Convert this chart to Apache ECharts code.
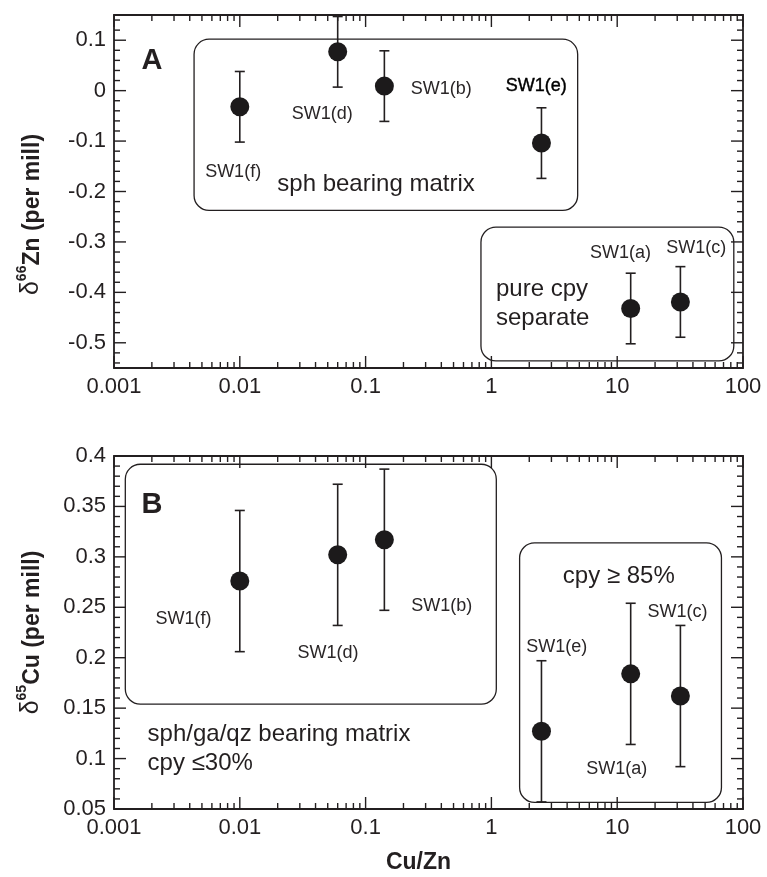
<!DOCTYPE html>
<html><head><meta charset="utf-8">
<script src="https://cdn.jsdelivr.net/npm/echarts@6/dist/echarts.min.js"></script>
<style>html,body{margin:0;padding:0;background:#fff}#c{width:767px;height:877px}</style>
</head><body><div id="c"></div>
<script>
// ---------- data ----------
const samples = ['SW1(a)', 'SW1(b)', 'SW1(c)', 'SW1(d)', 'SW1(e)', 'SW1(f)'];
const cuZnRatio = [12.8, 0.141, 31.8, 0.060, 2.5, 0.010];
const d66Zn = [-0.432, 0.009, -0.419, 0.077, -0.104, -0.032];
const d66ZnErr = [0.07, 0.07, 0.07, 0.07, 0.07, 0.07];
const d65Cu = [0.184, 0.317, 0.162, 0.302, 0.127, 0.276];
const d65CuErr = [0.07, 0.07, 0.07, 0.07, 0.07, 0.07];

const xTickValues = [0.001, 0.01, 0.1, 1, 10, 100];
const xTickLabels = ['0.001', '0.01', '0.1', '1', '10', '100'];
const yTickValuesA = [-0.5, -0.4, -0.3, -0.2, -0.1, 0, 0.1];
const yTickLabelsA = ['-0.5', '-0.4', '-0.3', '-0.2', '-0.1', '0', '0.1'];
const yTickValuesB = [0.05, 0.1, 0.15, 0.2, 0.25, 0.3, 0.35, 0.4];
const yTickLabelsB = ['0.05', '0.1', '0.15', '0.2', '0.25', '0.3', '0.35', '0.4'];

// ---------- annotations (data coordinates) ----------
const boxesA = [[0.00433, 0.102, 4.85, -0.2376], [0.826, -0.2707, 84.5, -0.536]];
const boxesB = [[0.00123, 0.3918, 1.094, 0.154], [1.676, 0.3139, 67.4, 0.0565]];
const notesA = [
  {t: 'A', p: [0.002, 0.058], k: 'panel'},
  {t: 'SW1(d)', p: [0.0452, -0.047], k: 'sample'},
  {t: 'SW1(f)', p: [0.00885, -0.162], k: 'sample'},
  {t: 'SW1(b)', p: [0.399, 0.003], k: 'sample'},
  {t: 'SW1(e)', p: [2.27, 0.0085], k: 'sampleDark'},
  {t: 'sph bearing matrix', p: [0.121, -0.186], k: 'group'},
  {t: 'SW1(a)', p: [10.6, -0.3216], k: 'sample'},
  {t: 'SW1(c)', p: [42.5, -0.3117], k: 'sample'},
  {t: 'pure cpy', p: [1.088, -0.394], k: 'groupL'},
  {t: 'separate', p: [1.088, -0.4515], k: 'groupL'}
];
const notesB = [
  {t: 'B', p: [0.002, 0.3512], k: 'panel'},
  {t: 'SW1(f)', p: [0.00357, 0.238], k: 'sample'},
  {t: 'SW1(d)', p: [0.0503, 0.205], k: 'sample'},
  {t: 'SW1(b)', p: [0.403, 0.2515], k: 'sample'},
  {t: 'SW1(e)', p: [3.31, 0.211], k: 'sample'},
  {t: 'SW1(c)', p: [30.2, 0.2456], k: 'sample'},
  {t: 'SW1(a)', p: [9.9, 0.09], k: 'sample'},
  {t: 'cpy \u2265 85%', p: [10.3, 0.281], k: 'group'},
  {t: 'sph/ga/qz bearing matrix', p: [0.00185, 0.1236], k: 'groupL'},
  {t: 'cpy \u226430%', p: [0.00185, 0.0955], k: 'groupL'}
];

// ---------- styling ----------
const INK = '#231f20';
const FONT = '"Liberation Sans", Arial, Helvetica, sans-serif';
const noteStyle = {
  panel: {font: 'bold 29px ' + FONT, align: 'center', fill: INK},
  sample: {font: '18px ' + FONT, align: 'center', fill: '#2a2627'},
  sampleDark: {font: '18px ' + FONT, align: 'center', fill: '#000', stroke: '#000', lw: 0.4},
  group: {font: '24px ' + FONT, align: 'center', fill: INK},
  groupL: {font: '24px ' + FONT, align: 'left', fill: INK}
};

// minor tick values
const xMinor = [];
for (let i = 0; i < xTickValues.length - 1; i++) for (let m = 2; m <= 9; m++) xMinor.push(xTickValues[i] * m);
function minorList(lo, hi, step, majors) {
  const out = [];
  const n = Math.round((hi - lo) / step);
  for (let i = 0; i <= n; i++) {
    const v = +(lo + i * step).toFixed(4);
    if (!majors.some(m => Math.abs(m - v) < 1e-6)) out.push(v);
  }
  return out;
}
const yMinorA = minorList(-0.54, 0.14, 0.02, yTickValuesA);
const yMinorB = minorList(0.06, 0.39, 0.01, yTickValuesB);

function xLabel(v) {
  const i = xTickValues.findIndex(t => Math.abs(Math.log10(t) - Math.log10(v)) < 1e-6);
  return i >= 0 ? xTickLabels[i] : '';
}
function yLabelFn(vals, labs) {
  return v => {
    const i = vals.findIndex(t => Math.abs(t - v) < 1e-6);
    return i >= 0 ? labs[i] : '';
  };
}

function xAxisDef(idx, withName) {
  const a = {
    type: 'log', logBase: 10, gridIndex: idx, min: 0.001, max: 100,
    axisLine: {show: false}, axisTick: {show: false}, splitLine: {show: false},
    axisLabel: {formatter: xLabel, fontFamily: FONT, fontSize: 22, color: INK, margin: 8}
  };
  if (withName) {
    a.name = 'Cu/Zn'; a.nameLocation = 'middle'; a.nameGap = 42;
    a.nameTextStyle = {fontFamily: FONT, fontSize: 23, fontWeight: 'bold', color: INK, padding: [0, 20, 0, 0]};
  }
  return a;
}
function yAxisDef(idx, min, max, vals, labs, iso, pad, extra) {
  return Object.assign({
    type: 'value', gridIndex: idx, min: min, max: max,
    axisLine: {show: false}, axisTick: {show: false}, splitLine: {show: false},
    axisLabel: {formatter: yLabelFn(vals, labs), fontFamily: FONT, fontSize: 22, color: INK, margin: 8},
    name: '{g|\u03b4}{s|' + iso + '}{t|' + (idx === 0 ? 'Zn' : 'Cu') + ' (per mill)}',
    nameLocation: 'middle', nameRotate: 90, nameGap: 70,
    nameTextStyle: {
      color: INK, padding: pad,
      rich: {
        g: {fontFamily: FONT, fontSize: 25, color: INK, verticalAlign: 'bottom'},
        s: {fontFamily: FONT, fontSize: 14, fontWeight: 'bold', color: INK, verticalAlign: 'bottom', padding: [0, 0, 15, 0]},
        t: {fontFamily: FONT, fontSize: 23, fontWeight: 'bold', color: INK, verticalAlign: 'bottom'}
      }
    }
  }, extra || {});
}

function tickSeries(idx, anchor, yMaj, yMin) {
  return {
    type: 'custom', xAxisIndex: idx, yAxisIndex: idx, silent: true, z: 6,
    data: [anchor],
    renderItem: function (params, api) {
      const cs = params.coordSys;
      const top = cs.y, bot = cs.y + cs.height, left = cs.x, right = cs.x + cs.width;
      const ch = [];
      const add = (x1, y1, x2, y2) => ch.push({type: 'line', shape: {x1, y1, x2, y2}, style: {stroke: INK, lineWidth: 1.4}});
      xTickValues.forEach(v => { const x = api.coord([v, anchor[1]])[0]; add(x, bot, x, bot - 12); add(x, top, x, top + 12); });
      xMinor.forEach(v => { const x = api.coord([v, anchor[1]])[0]; add(x, bot, x, bot - 6); add(x, top, x, top + 6); });
      yMaj.forEach(v => { const y = api.coord([anchor[0], v])[1]; add(left, y, left + 12, y); add(right, y, right - 12, y); });
      yMin.forEach(v => { const y = api.coord([anchor[0], v])[1]; add(left, y, left + 6, y); add(right, y, right - 6, y); });
      return {type: 'group', children: ch};
    }
  };
}

function errorSeries(idx, vals, errs) {
  return {
    type: 'custom', xAxisIndex: idx, yAxisIndex: idx, silent: true, z: 3,
    encode: {x: 0, y: [1, 2]},
    data: samples.map((s, i) => [cuZnRatio[i], vals[i] - errs[i], vals[i] + errs[i]]),
    renderItem: function (params, api) {
      const lo = api.coord([api.value(0), api.value(1)]);
      const hi = api.coord([api.value(0), api.value(2)]);
      const w = 5, st = {stroke: INK, lineWidth: 1.6};
      return {type: 'group', children: [
        {type: 'line', shape: {x1: lo[0], y1: lo[1], x2: hi[0], y2: hi[1]}, style: st},
        {type: 'line', shape: {x1: lo[0] - w, y1: lo[1], x2: lo[0] + w, y2: lo[1]}, style: st},
        {type: 'line', shape: {x1: hi[0] - w, y1: hi[1], x2: hi[0] + w, y2: hi[1]}, style: st}
      ]};
    }
  };
}

function pointSeries(idx, vals) {
  return {
    type: 'scatter', xAxisIndex: idx, yAxisIndex: idx, silent: true, z: 4,
    symbol: 'circle', symbolSize: 19,
    itemStyle: {color: '#1c1a1b', opacity: 1},
    data: samples.map((s, i) => [cuZnRatio[i], vals[i]])
  };
}

function boxSeries(idx, boxes) {
  return {
    type: 'custom', xAxisIndex: idx, yAxisIndex: idx, silent: true, z: 2,
    encode: {x: [0, 2], y: [1, 3]},
    data: boxes,
    renderItem: function (params, api) {
      const p1 = api.coord([api.value(0), api.value(1)]);
      const p2 = api.coord([api.value(2), api.value(3)]);
      return {type: 'rect',
        shape: {x: Math.min(p1[0], p2[0]), y: Math.min(p1[1], p2[1]), width: Math.abs(p2[0] - p1[0]), height: Math.abs(p2[1] - p1[1]), r: 15},
        style: {fill: 'none', stroke: INK, lineWidth: 1.3}};
    }
  };
}

function noteSeries(idx, notes) {
  return {
    type: 'custom', xAxisIndex: idx, yAxisIndex: idx, silent: true, z: 5,
    encode: {x: 0, y: 1},
    data: notes.map(n => n.p),
    renderItem: function (params, api) {
      const n = notes[params.dataIndex];
      const p = api.coord([api.value(0), api.value(1)]);
      const s = noteStyle[n.k];
      const style = {text: n.t, font: s.font, fill: s.fill, align: s.align, verticalAlign: 'middle'};
      if (s.stroke) { style.stroke = s.stroke; style.lineWidth = s.lw; }
      return {type: 'text', x: p[0], y: p[1], style: style};
    }
  };
}

const chart = echarts.init(document.getElementById('c'), null, {renderer: 'canvas'});
chart.setOption({
  backgroundColor: '#fff',
  animation: false,
  grid: [
    {left: 114, top: 15, width: 629, height: 353, show: true, borderColor: INK, borderWidth: 1.8, backgroundColor: 'transparent', containLabel: false},
    {left: 114, top: 456, width: 629, height: 353, show: true, borderColor: INK, borderWidth: 1.8, backgroundColor: 'transparent', containLabel: false}
  ],
  xAxis: [xAxisDef(0, false), xAxisDef(1, true)],
  yAxis: [
    yAxisDef(0, -0.55, 0.15, yTickValuesA, yTickLabelsA, '66', [0, 46, 0, 0], {splitNumber: 7}),
    yAxisDef(1, 0.05, 0.4, yTickValuesB, yTickLabelsB, '65', [0, 0, 0, 0], {interval: 0.05})
  ],
  series: [
    boxSeries(0, boxesA), errorSeries(0, d66Zn, d66ZnErr), pointSeries(0, d66Zn), noteSeries(0, notesA), tickSeries(0, [1, 0], yTickValuesA, yMinorA),
    boxSeries(1, boxesB), errorSeries(1, d65Cu, d65CuErr), pointSeries(1, d65Cu), noteSeries(1, notesB), tickSeries(1, [1, 0.2], yTickValuesB, yMinorB)
  ]
});
</script></body></html>
